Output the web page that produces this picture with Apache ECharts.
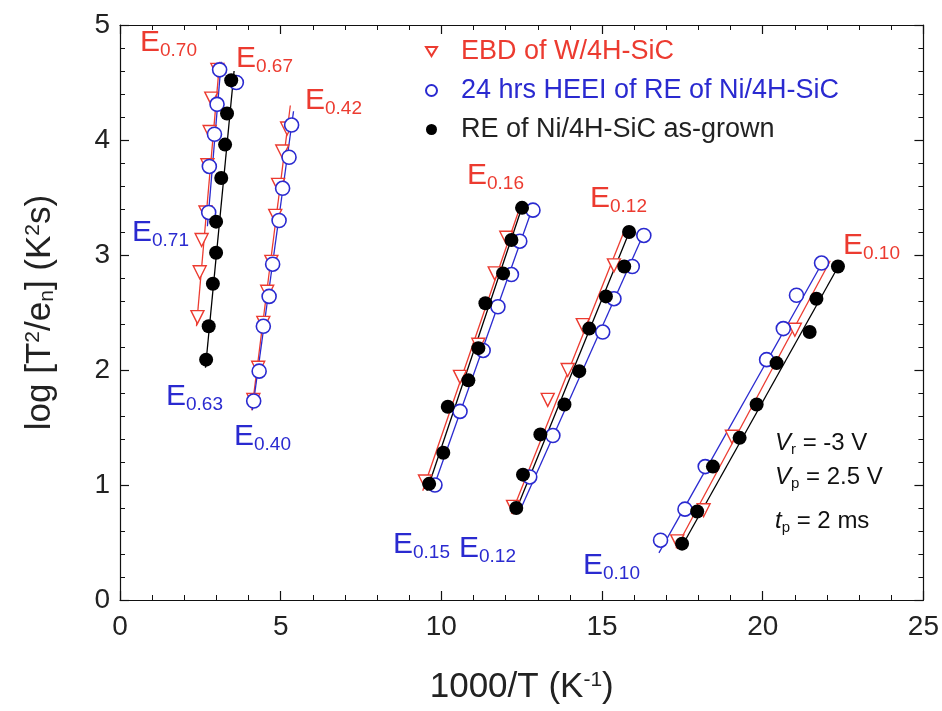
<!DOCTYPE html>
<html>
<head>
<meta charset="utf-8">
<script src="https://cdn.jsdelivr.net/npm/echarts@6/dist/echarts.min.js"></script>
<style>
html,body{margin:0;padding:0;background:#fff;}
#chart{width:942px;height:711px;}
</style>
</head>
<body>
<div id="chart"></div>
<script>
// ---------------- DATA ----------------
const xTicks = [0, 5, 10, 15, 20, 25];
const yTicks = [0, 1, 2, 3, 4, 5];

// EBD of W/4H-SiC (open red down-triangles)
const ebdX = [3.03, 2.84, 2.79, 2.72, 2.66, 2.54, 2.48, 2.41,
              5.20, 5.05, 4.92, 4.83, 4.71, 4.58, 4.46, 4.30, 4.15,
              12.02, 11.66, 11.15, 10.58, 9.49,
              15.37, 14.40, 13.93, 13.31, 12.23,
              21.00, 19.04, 18.16, 17.34];
const ebdY = [4.61, 4.36, 4.07, 3.78, 3.37, 3.13, 2.85, 2.46,
              4.10, 3.90, 3.61, 3.34, 2.94, 2.68, 2.41, 2.02, 1.74,
              3.15, 2.84, 2.22, 1.94, 1.03,
              2.91, 2.39, 2.00, 1.74, 0.81,
              2.35, 1.42, 0.78, 0.51];

// 24 hrs HEEI of RE of Ni/4H-SiC (open blue circles)
const heeiX = [3.10, 3.02, 2.94, 2.78, 2.76, 3.62,
               5.34, 5.26, 5.06, 4.95, 4.75, 4.64, 4.46, 4.33, 4.16,
               12.85, 12.44, 12.18, 11.76, 11.30, 10.58, 9.80,
               16.30, 15.94, 15.37, 15.02, 13.47, 12.75,
               21.83, 21.05, 20.64, 20.12, 18.21, 17.58, 16.82];
const heeiY = [4.61, 4.31, 4.05, 3.77, 3.37, 4.50,
               4.13, 3.85, 3.58, 3.30, 2.92, 2.64, 2.38, 1.99, 1.73,
               3.39, 3.12, 2.83, 2.55, 2.17, 1.64, 1.00,
               3.17, 2.90, 2.62, 2.33, 1.43, 1.07,
               2.93, 2.65, 2.36, 2.09, 1.16, 0.79, 0.52];

// RE of Ni/4H-SiC as-grown (filled black circles)
const grownX = [3.46, 3.33, 3.27, 3.15, 2.99, 2.99, 2.89, 2.76, 2.68,
                12.51, 12.18, 11.92, 11.37, 11.15, 10.84, 10.20, 10.06, 9.62,
                15.84, 15.69, 15.12, 14.60, 14.29, 13.83, 13.08, 12.54, 12.33,
                22.34, 21.67, 21.46, 20.43, 19.81, 19.28, 18.45, 17.96, 17.49];
const grownY = [4.52, 4.23, 3.96, 3.67, 3.29, 3.02, 2.75, 2.38, 2.09,
                3.41, 3.13, 2.84, 2.58, 2.19, 1.91, 1.68, 1.28, 1.01,
                3.20, 2.90, 2.64, 2.36, 1.99, 1.70, 1.44, 1.09, 0.80,
                2.90, 2.62, 2.33, 2.06, 1.70, 1.41, 1.16, 0.77, 0.49];

// Arrhenius fit lines: [x1, y1, x2, y2]
const ebdFits = [[2.38, 2.38, 3.10, 4.68], [4.10, 1.65, 5.30, 4.30], [9.42, 0.95, 12.45, 3.42],
                 [12.18, 0.75, 15.75, 3.25], [17.30, 0.45, 22.10, 2.95]];
const heeiFits = [[2.72, 3.25, 3.15, 4.68], [4.12, 1.65, 5.40, 4.25], [9.72, 0.95, 12.80, 3.38],
                  [12.45, 0.78, 16.35, 3.22], [16.77, 0.41, 21.95, 2.98]];
const grownFits = [[2.66, 2.02, 3.55, 4.60], [9.55, 0.95, 12.55, 3.45],
                   [12.28, 0.75, 15.92, 3.25], [17.45, 0.45, 22.45, 2.95]];

const seriesNames = ['EBD of W/4H-SiC', '24 hrs HEEI of RE of Ni/4H-SiC', 'RE of Ni/4H-SiC as-grown'];
const levelLabels = ['0.70', '0.67', '0.42', '0.71', '0.63', '0.40', '0.16', '0.12', '0.10', '0.15', '0.12', '0.10'];

// ---------------- STYLE ----------------
const RED = '#ec3b30', BLUE = '#2a2ad0', BLACK = '#000000';
const FONT = 'Liberation Sans, Arial, sans-serif';

function pairs(xs, ys) { return xs.map((x, i) => [x, ys[i]]); }

const series = [];
function addFits(fits, color, tag) {
  fits.forEach((f, i) => {
    series.push({
      name: tag + i, type: 'line', data: [[f[0], f[1]], [f[2], f[3]]],
      symbol: 'none', silent: true, z: 1,
      lineStyle: { color: color, width: 1.3 }
    });
  });
}
addFits(ebdFits, RED, 'fitE');
addFits(heeiFits, BLUE, 'fitH');
addFits(grownFits, BLACK, 'fitG');

series.push({
  name: seriesNames[0], type: 'scatter', data: pairs(ebdX, ebdY), z: 2,
  symbol: 'triangle', symbolRotate: 180, symbolSize: 13,
  itemStyle: { color: '#ffffff', borderColor: RED, borderWidth: 1.4, opacity: 1 }
});
series.push({
  name: seriesNames[1], type: 'scatter', data: pairs(heeiX, heeiY), z: 3,
  symbol: 'circle', symbolSize: 14,
  itemStyle: { color: '#ffffff', borderColor: BLUE, borderWidth: 1.6, opacity: 1 }
});
series.push({
  name: seriesNames[2], type: 'scatter', data: pairs(grownX, grownY), z: 4,
  symbol: 'circle', symbolSize: 14,
  itemStyle: { color: BLACK, borderColor: BLACK, borderWidth: 0, opacity: 1 }
});

// level labels (E_xx), positions are layout only
const labelPos = [
  { x: 140, y: 28, c: RED }, { x: 236, y: 44, c: RED }, { x: 305, y: 86, c: RED },
  { x: 132, y: 218, c: BLUE }, { x: 166, y: 382, c: BLUE }, { x: 234, y: 422, c: BLUE },
  { x: 467, y: 161, c: RED }, { x: 590, y: 184, c: RED }, { x: 843, y: 231, c: RED },
  { x: 393, y: 530, c: BLUE }, { x: 459, y: 534, c: BLUE }, { x: 583, y: 551, c: BLUE }
];
const eRich = {
  e: { fontSize: 30, lineHeight: 32, padding: [0, 0, 8, 0], verticalAlign: 'top', fontFamily: FONT },
  s: { fontSize: 19, lineHeight: 21, verticalAlign: 'bottom', fontFamily: FONT }
};
const graphics = labelPos.map((p, i) => ({
  type: 'text', z: 10,
  style: { x: p.x, y: p.y, text: '{e|E}{s|' + levelLabels[i] + '}', rich: eRich, fill: p.c, font: '30px ' + FONT }
}));

const condRich = {
  v: { fontSize: 24, fontStyle: 'italic', lineHeight: 26, padding: [0, 0, 6, 0], verticalAlign: 'top', fontFamily: FONT },
  n: { fontSize: 24, lineHeight: 26, padding: [0, 0, 6, 0], verticalAlign: 'top', fontFamily: FONT },
  s: { fontSize: 15, lineHeight: 16, verticalAlign: 'bottom', fontFamily: FONT }
};
const condLines = [
  '{v|V}{s|r}{n| = -3 V}',
  '{v|V}{s|p}{n| = 2.5 V}',
  '{v|t}{s|p}{n| = 2 ms}'
];
const condY = [431, 465, 509];
condLines.forEach((t, i) => {
  graphics.push({ type: 'text', z: 10, style: { x: 775, y: condY[i], text: t, rich: condRich, fill: '#111', font: '24px ' + FONT } });
});

const axisCommon = {
  type: 'value',
  axisLine: { show: true, onZero: false, lineStyle: { color: '#111', width: 1.2 } },
  axisTick: { show: true, inside: true, length: 9, lineStyle: { color: '#111', width: 1.2 } },
  minorTick: { show: true, splitNumber: 5, length: 5, lineStyle: { color: '#111', width: 1 } },
  splitLine: { show: false }
};

const option = {
  backgroundColor: '#ffffff',
  animation: false,
  textStyle: { fontFamily: FONT },
  grid: { left: 120, right: 15, top: 25, bottom: 111, containLabel: false },
  legend: {
    orient: 'vertical', left: 420, top: 33, itemGap: 12,
    itemWidth: 11, itemHeight: 11,
    textStyle: { fontSize: 27, fontFamily: FONT, padding: [0, 0, 0, 19] },
    data: [
      { name: seriesNames[0], icon: 'path://M0,0L12,0L6,10Z', textStyle: { color: RED } },
      { name: seriesNames[1], icon: 'circle', textStyle: { color: BLUE } },
      { name: seriesNames[2], icon: 'circle', textStyle: { color: '#222' } }
    ]
  },
  xAxis: [
    Object.assign({}, axisCommon, {
      min: xTicks[0], max: xTicks[xTicks.length - 1], interval: xTicks[1] - xTicks[0], position: 'bottom',
      axisLabel: { fontSize: 28, color: '#222', margin: 13, fontFamily: FONT },
      name: '1000/T (K{sup|-1})', nameLocation: 'middle', nameGap: 70,
      nameTextStyle: { fontSize: 35, color: '#222', fontFamily: FONT,
        rich: { sup: { fontSize: 21, verticalAlign: 'top', lineHeight: 20, fontFamily: FONT } } }
    }),
    Object.assign({}, axisCommon, {
      min: xTicks[0], max: xTicks[xTicks.length - 1], interval: xTicks[1] - xTicks[0], position: 'top',
      axisLabel: { show: false }
    })
  ],
  yAxis: [
    Object.assign({}, axisCommon, {
      min: yTicks[0], max: yTicks[yTicks.length - 1], interval: yTicks[1] - yTicks[0], position: 'left',
      axisLabel: { fontSize: 28, color: '#222', margin: 10, fontFamily: FONT },
      name: 'log [T{sup|2}/e{sub|n}] (K{sup|2}s)', nameLocation: 'middle', nameGap: 62,
      nameTextStyle: { fontSize: 35, color: '#222', fontFamily: FONT,
        rich: {
          sup: { fontSize: 21, verticalAlign: 'top', lineHeight: 20, fontFamily: FONT },
          sub: { fontSize: 21, verticalAlign: 'bottom', lineHeight: 20, fontFamily: FONT }
        } }
    }),
    Object.assign({}, axisCommon, {
      min: yTicks[0], max: yTicks[yTicks.length - 1], interval: yTicks[1] - yTicks[0], position: 'right',
      axisLabel: { show: false }
    })
  ],
  series: series,
  graphic: graphics
};

const chart = echarts.init(document.getElementById('chart'), null, { renderer: 'canvas' });
chart.setOption(option);
</script>
</body>
</html>
